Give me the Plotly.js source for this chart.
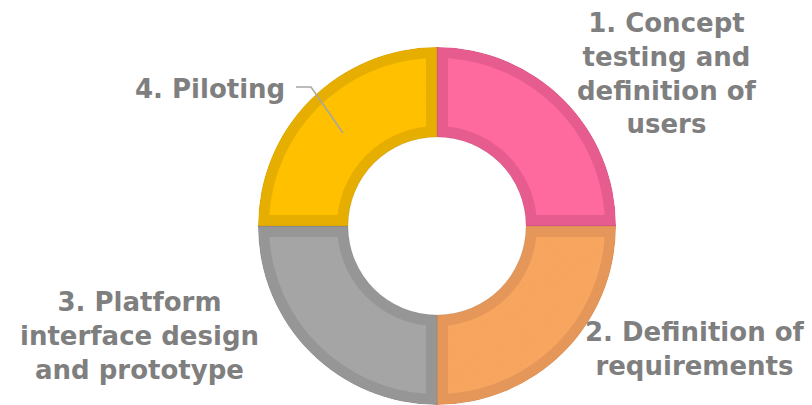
<!DOCTYPE html>
<html>
<head>
<meta charset="utf-8">
<script src="https://cdn.plot.ly/plotly-3.0.1.min.js"></script>
<style>html,body{margin:0;padding:0;background:#fff;}#chart{width:812px;height:405px;}</style>
</head>
<body>
<div id="chart"></div>
<script>
// ---- data ----
const categories = [
  "1. Concept testing and definition of users",
  "2. Definition of requirements",
  "3. Platform interface design and prototype",
  "4. Piloting"
];
const labelLines = [
  "1. Concept<br>testing and<br>definition of<br>users",
  "2. Definition of<br>requirements",
  "3. Platform<br>interface design<br>and prototype",
  "4. Piloting"
];
const values = [25, 25, 25, 25];
const fillColors = ["#FF6A9E", "#F7A55F", "#A5A5A5", "#FFC000"];
const borderColors = ["#E65C8E", "#E5975A", "#969696", "#E6AE00"];

// ---- geometry (pixels) ----
const W = 812, H = 405;
const cx = 437, cy = 226, R = 179, rHole = 89, bw = 11;

const total = values.reduce((a, b) => a + b, 0);
const segDeg = values.map(v => v / total * 360);
const centers = [];
let acc = 0;
segDeg.forEach(d => { centers.push(acc + d / 2); acc += d; });

const traces = [];
// dark (border) layer
traces.push({
  type: 'barpolar',
  theta: centers,
  width: segDeg,
  base: values.map(() => rHole),
  r: values.map(() => R - rHole),
  marker: { color: borderColors, line: { width: 0.6, color: 'rgba(0,0,0,0.12)' } },
  hoverinfo: 'skip',
  showlegend: false
});
// light (fill) layer built from thin rings so the side borders keep a constant pixel width
const r0 = rHole + bw, r1 = R - bw, N = 14;
const dr = (r1 - r0) / N;
for (let i = 0; i < N; i++) {
  const rb = r0 + i * dr;
  const rm = rb + dr / 2;
  const delta = bw / rm * 180 / Math.PI;
  traces.push({
    type: 'barpolar',
    theta: centers,
    width: segDeg.map(d => d - 2 * delta),
    base: values.map(() => rb),
    r: values.map(() => (i === N - 1 ? dr : dr + 0.8)),
    marker: { color: fillColors, line: { width: 0 } },
    name: 'ring',
    text: categories,
    hoverinfo: 'text',
    showlegend: false
  });
}

const font = { family: '"DejaVu Sans", Inter, sans-serif', size: 26, color: '#7F7F7F', weight: 700 };
const px = x => x / W, py = y => 1 - y / H;

const annotations = [
  { x: px(667), y: py(74), text: labelLines[0], xanchor: 'center', yanchor: 'middle' },
  { x: px(695), y: py(349), text: labelLines[1], xanchor: 'center', yanchor: 'middle' },
  { x: px(139), y: py(336), text: labelLines[2], xanchor: 'center', yanchor: 'middle' },
  { x: px(287), y: py(89), text: labelLines[3], xanchor: 'right', yanchor: 'middle' }
].map(a => Object.assign({ xref: 'paper', yref: 'paper', showarrow: false, align: 'center', font: font }, a));

const layout = {
  width: W, height: H,
  margin: { l: 0, r: 0, t: 0, b: 0 },
  paper_bgcolor: '#ffffff',
  showlegend: false,
  polar: {
    domain: { x: [(cx - R) / W, (cx + R) / W], y: [(H - cy - R) / H, (H - cy + R) / H] },
    bgcolor: 'rgba(0,0,0,0)',
    barmode: 'overlay',
    radialaxis: { range: [0, R], visible: false, showgrid: false },
    angularaxis: { rotation: 90, direction: 'clockwise', visible: false, showgrid: false }
  },
  annotations: annotations,
  shapes: [{
    type: 'path', xref: 'paper', yref: 'paper',
    path: `M ${px(296)} ${py(87)} L ${px(311)} ${py(87)} L ${px(343)} ${py(133)}`,
    line: { color: '#A6A6A6', width: 1.5 }
  }]
};

Plotly.newPlot('chart', traces, layout, { displayModeBar: false, staticPlot: true });
</script>
</body>
</html>
